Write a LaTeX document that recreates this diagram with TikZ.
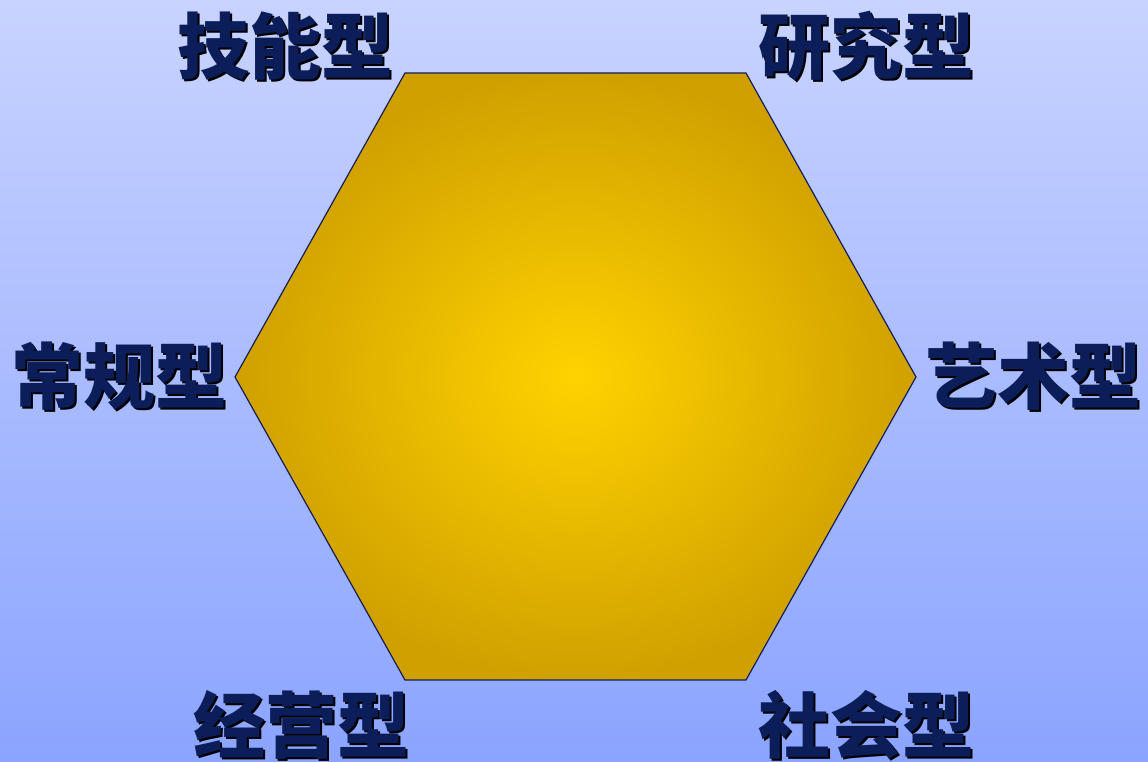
\documentclass[tikz,border=0pt]{standalone}
\usepackage{fontspec}
\newfontfamily\cjk{Noto Sans CJK SC}
\usetikzlibrary{positioning}
\definecolor{bgtop}{RGB}{200,211,255}
\definecolor{bgbottom}{RGB}{139,164,255}
\definecolor{hexinner}{RGB}{255,210,0}
\definecolor{hexouter}{RGB}{208,160,0}
\definecolor{hexline}{RGB}{20,30,90}
\definecolor{labelnavy}{RGB}{12,30,90}
\tikzset{
  hexface/.style={draw=hexline, line width=1.2pt, line join=miter,
                  shading=radial, inner color=hexinner, outer color=hexouter},
  typelabel/.style={inner sep=0pt, font=\cjk\bfseries\fontsize{72}{72}\selectfont,
                    text=labelnavy},
}
% text with a dark drop shadow behind it
\newcommand{\shadowed}[1]{%
  \rlap{\kern2.5pt\raisebox{-2.5pt}{\color{black}#1}}#1}

\begin{document}
\begin{tikzpicture}[x=1pt, y=-1pt]
  \useasboundingbox (0,0) rectangle (1148,762);
  \shade[top color=bgtop, bottom color=bgbottom] (0,0) rectangle (1148,762);

  \coordinate (vtl) at (405,73);
  \coordinate (vtr) at (746,73);
  \coordinate (vr)  at (916,377);
  \coordinate (vbr) at (746,680);
  \coordinate (vbl) at (405,680);
  \coordinate (vl)  at (235,377);
  \path[hexface] (vtl) -- (vtr) -- (vr) -- (vbr) -- (vbl) -- (vl) -- cycle;

  \node[typelabel] (skill)    at (285,47)  {\shadowed{技能型}};
  \node[typelabel] (research) at (866,47)  {\shadowed{研究型}};
  \node[typelabel] (conv)     at (119,377) {\shadowed{常规型}};
  \node[typelabel] (art)      at (1033,377) {\shadowed{艺术型}};
  \node[typelabel] (enter)    at (301,726) {\shadowed{经营型}};
  \node[typelabel] (social)   at (866,726) {\shadowed{社会型}};
\end{tikzpicture}
\end{document}
